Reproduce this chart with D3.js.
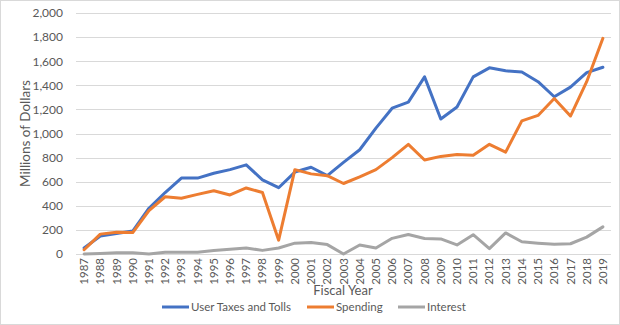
<!DOCTYPE html>
<html><head><meta charset="utf-8">
<script src="https://cdn.jsdelivr.net/npm/d3@7"></script>
<style>body{margin:0;background:#fff}svg{display:block}text{font-family:Lato,"Liberation Sans",sans-serif}</style>
</head><body><svg id="c" width="620" height="325"></svg>
<script>
const years = d3.range(1987, 2020).map(String);
const userTaxes = [50,150,170,190,380,510,630,630,670,700,740,615,550,680,720,650,760,865,1045,1210,1260,1470,1120,1220,1470,1545,1520,1510,1430,1305,1385,1505,1550];
const spending = [35,165,180,178,360,475,462,495,525,490,548,510,115,700,665,650,585,640,700,800,910,780,810,825,820,910,845,1105,1150,1290,1145,1430,1790];
const interest = [0,5,10,10,0,15,15,15,30,40,50,30,50,90,95,78,0,75,50,130,162,128,125,75,160,45,175,102,90,80,85,140,225];
const yTicks = [0,200,400,600,800,1000,1200,1400,1600,1800,2000];
const seriesNames = ["User Taxes and Tolls","Spending","Interest"];
const colors = ["#4472C4","#ED7D31","#A5A5A5"];

const svg = d3.select("#c");
svg.append("rect").attr("x",0.5).attr("y",0.5).attr("width",619).attr("height",324).attr("fill","#fff").attr("stroke","#d9d9d9");
const L=76,R=611,T=13,B=254;
const x = d3.scaleBand().domain(years).range([L,R]);
const y = d3.scaleLinear().domain([0,2000]).range([B,T]);

svg.append("g").selectAll("line").data(yTicks).join("line")
  .attr("x1",L).attr("x2",R).attr("y1",d=>Math.round(y(d))+0.5).attr("y2",d=>Math.round(y(d))+0.5)
  .attr("stroke","#d9d9d9").attr("stroke-width",1);

const ya = svg.append("g").attr("transform",`translate(${L},0)`)
  .call(d3.axisLeft(y).tickValues(yTicks).tickSize(0).tickPadding(13).tickFormat(d3.format(",")));
ya.select(".domain").remove();
ya.selectAll("text").attr("fill","#595959").style("font-size","12px");

const xa = svg.append("g").attr("transform",`translate(0,${B})`)
  .call(d3.axisBottom(x).tickSize(0).tickPadding(0));
xa.select(".domain").remove();
xa.selectAll("text").attr("fill","#595959").style("font-size","11.5px")
  .attr("text-anchor","end").attr("transform","rotate(-90)").attr("dy","0.35em").attr("x",-4).attr("y",0);

const data = [userTaxes, spending, interest];
const line = d3.line().x((d,i)=>x(years[i])+x.bandwidth()/2).y(d=>y(d));
[0,1,2].forEach(k=>{
  svg.append("path").datum(data[k]).attr("d",line).attr("fill","none")
    .attr("stroke",colors[k]).attr("stroke-width",3).attr("stroke-linejoin","round").attr("stroke-linecap","round");
});

svg.append("text").attr("transform",`translate(30,${(T+B)/2}) rotate(-90)`).attr("text-anchor","middle")
  .attr("fill","#595959").style("font-size","13.5px").text("Millions of Dollars");
svg.append("text").attr("x",343).attr("y",295).attr("text-anchor","middle")
  .attr("fill","#595959").style("font-size","13px").text("Fiscal Year");

const lg = [{x:162},{x:307},{x:398}];
seriesNames.forEach((n,k)=>{
  svg.append("line").attr("x1",lg[k].x).attr("x2",lg[k].x+27).attr("y1",307).attr("y2",307)
    .attr("stroke",colors[k]).attr("stroke-width",3);
  svg.append("text").attr("x",lg[k].x+29).attr("y",307).attr("dy","0.35em")
    .attr("fill","#595959").style("font-size","11.5px").text(n);
});
</script></body></html>
